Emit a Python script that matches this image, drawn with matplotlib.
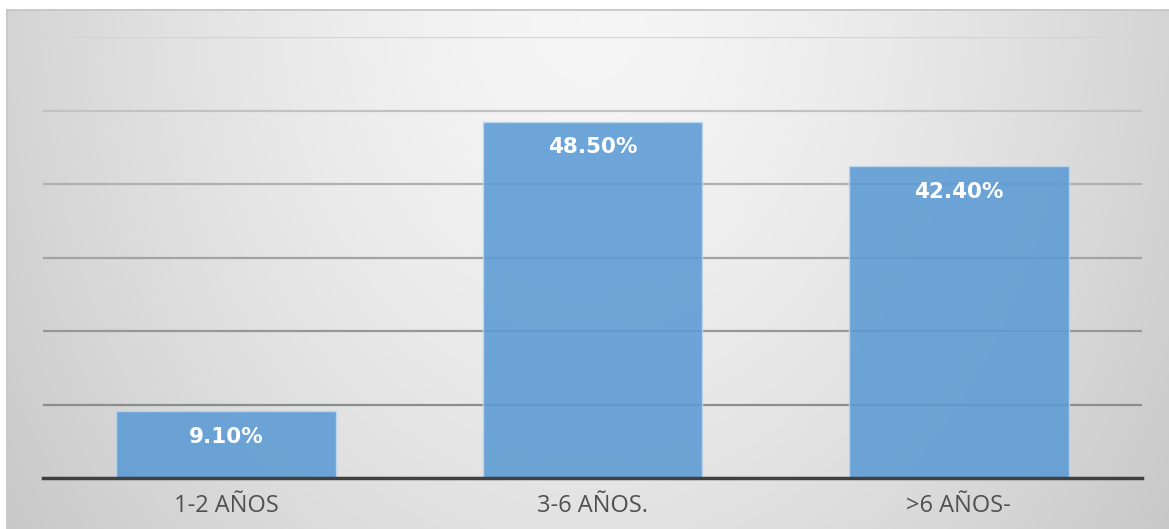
import matplotlib.pyplot as plt
import numpy as np

categorias = ['1-2 AÑOS', '3-6 AÑOS.', '>6 AÑOS-']
porcentajes = [9.10, 48.50, 42.40]
etiquetas = ['9.10%', '48.50%', '42.40%']

W, H = 1169, 529
fig = plt.figure(figsize=(W / 100, H / 100), dpi=100)
fig.patch.set_facecolor('white')

# fondo gris con degradado (claro arriba al centro, oscuro en los bordes)
bg = fig.add_axes([6 / W, 0, 1 - 6 / W, (H - 9) / H])
gx = np.linspace(-1, 1, 400)
gy = np.linspace(0, 1, 200)
X, Y = np.meshgrid(gx, gy)
d = np.sqrt((X * 0.85) ** 2 + (Y * 0.6) ** 2)
shade = 0.965 - 0.17 * np.clip(d, 0, 1.2) ** 1.5
bg.imshow(np.dstack([shade] * 3), aspect='auto', origin='upper', extent=[0, 1, 0, 1])
bg.axis('off')
bg.axhline(1, color='#c8c8c8', lw=2)
bg.axvline(0, color='#c8c8c8', lw=2)

ax = fig.add_axes([43 / W, (H - 478) / H, (1142 - 43) / W, (478 - 37) / H])
ax.set_facecolor('none')
x = np.arange(len(categorias))
ax.set_xlim(-0.5, len(categorias) - 0.5)
ax.set_ylim(0, 60)

# líneas de cuadrícula, más claras hacia arriba
niveles = np.arange(10, 61, 10)
grises = ['#8c8c8c', '#979797', '#a3a3a3', '#b0b0b0', '#c2c2c2', '#d4d4d4']
for nv, g in zip(niveles, grises):
    ax.axhline(nv, color=g, lw=1.6, zorder=1)

barras = ax.bar(x, porcentajes, width=0.6, color='#5b9bd5', alpha=0.88,
                edgecolor='#bdd7ee', linewidth=1, zorder=2)
for xi, v, t in zip(x, porcentajes, etiquetas):
    ax.text(xi, v - 3.5, t, ha='center', va='center', color='white',
            fontsize=15.5, fontweight='bold', family='DejaVu Sans', zorder=3)

for s in ['top', 'right', 'left']:
    ax.spines[s].set_visible(False)
ax.spines['bottom'].set_color('#404040')
ax.spines['bottom'].set_linewidth(2.5)
ax.spines['bottom'].set_zorder(4)
ax.set_yticks([])
ax.tick_params(axis='x', bottom=False, pad=8)
ax.set_xticks(x)
ax.set_xticklabels(categorias, fontsize=17, color='#505050', family='Open Sans')

fig.savefig('out.png', dpi=100)
